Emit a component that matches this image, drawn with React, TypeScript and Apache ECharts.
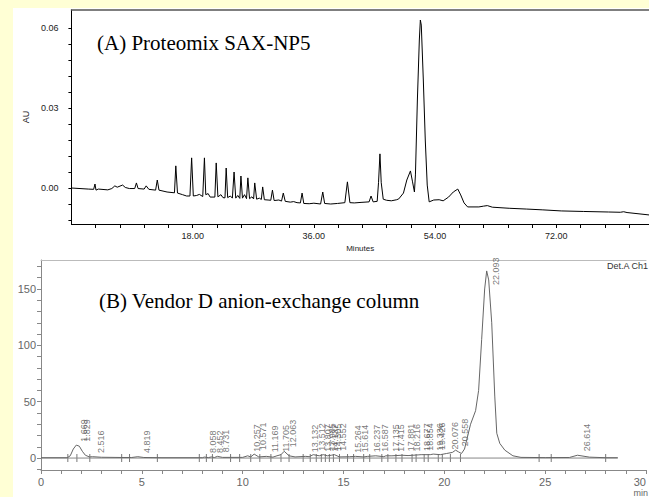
import React, { useEffect, useRef } from "react";
import * as echarts from "echarts";

// ---------- Panel A: Proteomix SAX-NP5 (time in min, absorbance AU) ----------
const traceA: [number, number][] = [
  [0, 0], [2.5, -0.0004], [3.3, -0.0005], [3.5, 0.0015], [3.65, -0.0008], [4.0, -0.0004],
  [5.4, -0.0007], [6.0, -0.0002], [6.45, 0.0008], [6.8, 0.0003], [7.6, 0.0011], [8.0, 0.0002],
  [8.6, -0.0002], [9.4, -0.0002], [9.65, 0.0019], [9.9, -0.0002], [10.8, -0.0004], [11.1, 0.0008],
  [11.5, -0.0005], [12.5, -0.0008], [12.75, 0.003], [13.0, -0.0008], [14.2, -0.0015], [15.3, -0.0018],
  [15.5, 0.0083], [15.75, -0.0019], [16.5, -0.0025], [17.1, -0.003], [17.6, -0.003], [17.85, 0.0113],
  [18.1, -0.003], [18.6, -0.0028], [19.0, -0.0024], [19.5, -0.0032], [19.75, 0.0113], [19.95, -0.0025],
  [20.3, -0.0021], [20.6, -0.0034], [21.3, -0.0034], [21.5, 0.0094], [21.75, -0.0033], [22.2, -0.0025],
  [22.5, -0.0036], [22.8, -0.0037], [22.98, 0.0075], [23.2, -0.0036], [23.6, -0.003], [23.9, -0.0038],
  [24.15, 0.006], [24.4, -0.0038], [24.7, -0.0028], [25.0, -0.0039], [25.17, 0.0045], [25.4, -0.0038],
  [25.7, -0.0025], [26.0, -0.004], [26.2, 0.0038], [26.45, -0.004], [26.8, -0.0033], [27.05, -0.0041],
  [27.22, 0.0019], [27.5, -0.0042], [27.9, -0.0038], [28.2, -0.0043], [28.4, 0.0004], [28.65, -0.0044],
  [29.2, -0.0045], [29.6, -0.0046], [29.85, -0.0008], [30.1, -0.0047], [30.8, -0.0045], [31.2, -0.0049],
  [31.46, -0.0019], [31.75, -0.005], [32.5, -0.0053], [33.0, -0.0051], [33.5, -0.0055], [34.0, -0.0056],
  [34.25, -0.0019], [34.5, -0.0058], [35.3, -0.0059], [36.0, -0.0057], [37.0, -0.006], [37.32, -0.0015],
  [37.6, -0.0058], [38.5, -0.006], [39.5, -0.0058], [40.6, -0.0055], [40.98, 0.0023], [41.35, -0.0055],
  [42.0, -0.0056], [43.0, -0.0054], [44.2, -0.0052], [44.49, -0.003], [44.8, -0.0052], [45.4, -0.005],
  [45.6, 0.002], [45.81, 0.0128], [46.0, 0.002], [46.3, -0.0042], [46.8, -0.0046], [47.5, -0.0048],
  [48.3, -0.0044], [48.6, -0.0041], [49.3, -0.0019], [49.8, 0.003], [50.34, 0.0064], [50.65, 0.0023],
  [50.93, -0.0015], [51.08, 0.0049], [51.37, 0.033], [51.66, 0.0555], [51.81, 0.063], [51.95, 0.0611],
  [52.25, 0.0405], [52.54, 0.018], [52.83, 0.0011], [53.12, -0.0052], [53.8, -0.0045], [54.6, -0.0044],
  [55.2, -0.0048], [56.0, -0.0034], [56.7, -0.0015], [57.37, -0.0004], [57.8, -0.0026], [58.3, -0.0056],
  [58.83, -0.0071], [60.5, -0.0071], [61.2, -0.0068], [61.76, -0.0066], [62.5, -0.0072], [65.0, -0.0076],
  [67.61, -0.0079], [70.0, -0.0082], [72.73, -0.0086], [76.0, -0.0088], [79.76, -0.009], [81.5, -0.0091],
  [82.0, -0.0089], [82.5, -0.0092], [85.76, -0.0101],
];
const aXRange = [0, 85.76];
const aYRange = [-0.0135, 0.06675];
const aXTicks = [3.6, 7.2, 10.8, 14.4, 18, 21.6, 25.2, 28.8, 32.4, 36, 39.6, 43.2, 46.8, 50.4, 54, 57.6, 61.2, 64.8, 68.4, 72, 75.6, 79.2, 82.8];
const aXLabels = [18, 36, 54, 72];
const aYTicks = [-0.012, -0.006, 0, 0.006, 0.012, 0.018, 0.024, 0.03, 0.036, 0.042, 0.048, 0.054, 0.06];
const aYLabels = [0, 0.03, 0.06];

// ---------- Panel B: Vendor D anion-exchange column (time in min, signal mV) ----------
const traceB: [number, number][] = [
  [0, 0.3], [1.3, 0.3], [1.45, 2], [1.6, 8], [1.75, 11.5], [1.9, 10.5], [2.05, 6], [2.2, 2.5], [2.4, 1],
  [2.55, 1.2], [3, 0.7], [4, 0.5], [4.5, 0.5], [4.8, 1.2], [5.1, 0.5], [6, 0.3], [8, 0.3], [8.1, 0.9],
  [8.3, 0.4], [8.45, 1], [8.6, 0.5], [8.75, 1.5], [9, 0.6], [10, 0.6], [10.25, 2], [10.4, 1], [10.57, 3.5],
  [10.8, 1], [11.17, 1.5], [11.5, 0.8], [11.7, 2], [11.9, 3], [12.06, 6], [12.3, 2], [12.6, 1], [13.13, 1.5],
  [13.3, 1.2], [13.5, 3], [13.8, 2], [14.0, 3], [14.2, 2], [14.4, 2.5], [14.55, 3], [14.8, 1], [15.3, 1.2],
  [15.6, 1.5], [16, 1], [16.2, 1.5], [16.6, 2], [17, 1.2], [17.1, 2], [17.4, 2], [17.9, 2.5], [18.2, 2.2],
  [18.7, 2.8], [18.85, 3], [19.3, 3], [19.45, 3.5], [19.8, 3], [20.1, 4], [20.4, 5], [20.56, 7], [20.7, 5.5],
  [20.85, 4], [21.0, 8], [21.3, 30], [21.55, 42], [21.7, 60], [21.85, 105], [22.0, 150], [22.1, 166],
  [22.2, 158], [22.35, 120], [22.5, 55], [22.6, 22], [22.75, 13], [23.0, 7], [23.4, 2], [23.8, 0.6],
  [25, 0.4], [26.2, 0.5], [26.6, 2.5], [27.2, 0.8], [28, 0.3], [28.6, 0.3],
];
const peaksB: [number, number][] = [
  [1.669, 11], [1.829, 11], [2.516, 1], [4.819, 1], [8.058, 1], [8.452, 1], [8.731, 1.5], [10.257, 2],
  [10.571, 3.5], [11.169, 1.5], [11.705, 2], [12.063, 6], [13.132, 1.5], [13.512, 3], [13.807, 2],
  [13.985, 3], [14.137, 2], [14.305, 2.5], [14.552, 3], [15.264, 1.2], [15.614, 1.5], [16.237, 1.5],
  [16.587, 2], [17.135, 2], [17.415, 2], [17.881, 2.5], [18.216, 2.2], [18.677, 2.8], [18.854, 3],
  [19.336, 3], [19.426, 3.5], [20.076, 4], [20.558, 7], [22.093, 166], [26.614, 2.5],
];
const markersB = [1.33, 1.78, 2.42, 4.0, 4.39, 5.77, 7.85, 8.2, 8.5, 9.4, 9.85, 10.4, 10.85, 11.4, 11.9, 12.3,
  13.0, 13.35, 13.65, 13.9, 14.1, 14.3, 14.5, 14.8, 15.2, 15.5, 16.0, 16.3, 16.9, 17.2, 17.6, 17.9, 18.4,
  18.6, 19.0, 19.2, 19.7, 19.9, 20.3, 20.8, 24.7, 25.3, 28.0];
const baselineB = [0, 28.6];
const bXRange = [0, 30];
const bYRange = [-10.6, 175.7];
const bXTicks = [0, 1, 2, 3, 4, 5, 6, 7, 8, 9, 10, 11, 12, 13, 14, 15, 16, 17, 18, 19, 20, 21, 22, 23, 24, 25, 26, 27, 28, 29, 30];
const bXLabels = [0, 5, 10, 15, 20, 25, 30];
const bYTicks = [-10, 0, 10, 20, 30, 40, 50, 60, 70, 80, 90, 100, 110, 120, 130, 140, 150, 160, 170];
const bYLabels = [0, 50, 100, 150];
const labelCapB = 150;

const SANS = "'Liberation Sans', Arial, sans-serif";
const SERIF = "'Liberation Serif', 'Times New Roman', serif";

export default function App() {
  const ref = useRef<HTMLDivElement>(null);
  useEffect(() => {
    document.body.style.margin = "0";
    const chart = echarts.init(ref.current!, null, { renderer: "svg" });
    const option: any = {
      animation: false,
      grid: [
        { left: 50, top: 2, right: 0, height: 214 },
        { left: 28, top: 252, right: 0, height: 210 },
      ],
      xAxis: [
        {
          gridIndex: 0, type: "value", min: aXRange[0], max: aXRange[1],
          axisLine: { onZero: false, lineStyle: { color: "#000", width: 1 } },
          axisTick: { customValues: aXTicks, length: 4, lineStyle: { color: "#000" } },
          axisLabel: {
            customValues: aXLabels, formatter: (v: number) => v.toFixed(2),
            fontSize: 9, color: "#222", margin: 7, fontFamily: SANS,
          },
          splitLine: { show: false },
          name: "Minutes", nameLocation: "middle", nameGap: 20,
          nameTextStyle: { fontSize: 8, color: "#222", fontFamily: SANS },
        },
        {
          gridIndex: 0, type: "value", position: "top", min: aXRange[0], max: aXRange[1],
          axisLine: { onZero: false, lineStyle: { color: "#555", width: 1.5 } },
          axisTick: { show: false }, axisLabel: { show: false }, splitLine: { show: false },
        },
        {
          gridIndex: 1, type: "value", min: bXRange[0], max: bXRange[1],
          axisLine: { onZero: false, lineStyle: { color: "#888", width: 1 } },
          axisTick: { customValues: bXTicks, length: 4, lineStyle: { color: "#888" } },
          axisLabel: {
            customValues: bXLabels, fontSize: 11, color: "#666", margin: 6, fontFamily: SANS,
            alignMaxLabel: "right",
          },
          splitLine: { show: false },
        },
        {
          gridIndex: 1, type: "value", position: "top", min: bXRange[0], max: bXRange[1],
          axisLine: { onZero: false, lineStyle: { color: "#bbb", width: 1 } },
          axisTick: { show: false }, axisLabel: { show: false }, splitLine: { show: false },
        },
      ],
      yAxis: [
        {
          gridIndex: 0, type: "value", min: aYRange[0], max: aYRange[1],
          axisLine: { show: true, onZero: false, lineStyle: { color: "#000", width: 1 } },
          axisTick: { show: true, customValues: aYTicks, length: 3, lineStyle: { color: "#000" } },
          axisLabel: {
            customValues: aYLabels, formatter: (v: number) => v.toFixed(2),
            fontSize: 9, color: "#222", margin: 13, fontFamily: SANS,
          },
          splitLine: { show: false },
          name: "AU", nameLocation: "middle", nameRotate: 90, nameGap: 33,
          nameTextStyle: { fontSize: 9, color: "#222", fontFamily: SANS },
        },
        {
          gridIndex: 1, type: "value", min: bYRange[0], max: bYRange[1],
          axisLine: { show: true, onZero: false, lineStyle: { color: "#888", width: 1 } },
          axisTick: { show: true, customValues: bYTicks, length: 4, lineStyle: { color: "#888" } },
          axisLabel: { customValues: bYLabels, fontSize: 11, color: "#666", margin: 5, fontFamily: SANS },
          splitLine: { show: false },
        },
      ],
      series: [
        {
          type: "line", xAxisIndex: 0, yAxisIndex: 0, data: traceA, showSymbol: false, symbol: "none",
          lineStyle: { color: "#000", width: 1 }, silent: true,
        },
        {
          type: "line", xAxisIndex: 2, yAxisIndex: 1, data: baselineB.map((t) => [t, 0]), symbol: "none",
          lineStyle: { color: "#888", width: 1 }, silent: true,
        },
        {
          type: "line", xAxisIndex: 2, yAxisIndex: 1, data: traceB, showSymbol: false, symbol: "none",
          lineStyle: { color: "#666", width: 1 }, silent: true,
        },
        {
          type: "scatter", xAxisIndex: 2, yAxisIndex: 1, data: markersB.map((t) => [t, 0]),
          symbol: "rect", symbolSize: [1, 8], itemStyle: { color: "#555" }, silent: true,
        },
        {
          type: "scatter", xAxisIndex: 2, yAxisIndex: 1, symbolSize: 0, silent: true,
          data: peaksB.map(([t, h]) => ({ value: [t, Math.min(h, labelCapB)], name: t.toFixed(3) })),
          label: {
            show: true, formatter: (p: any) => p.name, rotate: 90, position: [9, -4],
            align: "left", verticalAlign: "middle", fontSize: 9, color: "#555", fontFamily: SANS,
          },
        },
      ],
      graphic: [
        {
          type: "text", x: 84, y: 35,
          style: { text: "(A) Proteomix SAX-NP5", font: `21px ${SERIF}`, fill: "#000", verticalAlign: "middle" },
        },
        {
          type: "text", x: 86, y: 293,
          style: { text: "(B) Vendor D anion-exchange column", font: `21px ${SERIF}`, fill: "#000", verticalAlign: "middle" },
        },
        {
          type: "text", x: 635, y: 258,
          style: { text: "Det.A Ch1", font: `9px ${SANS}`, fill: "#333", align: "right", verticalAlign: "middle" },
        },
        {
          type: "text", x: 635, y: 485,
          style: { text: "min", font: `9px ${SANS}`, fill: "#666", align: "right", verticalAlign: "middle" },
        },
      ],
    };
    chart.setOption(option);
    return () => chart.dispose();
  }, []);
  return (
    <div style={{ position: "relative", width: 649, height: 497, background: "#FFFFD5", overflow: "hidden" }}>
      <div
        ref={ref}
        style={{ position: "absolute", left: 13, top: 8, width: 636, height: 489, background: "#fff" }}
      />
    </div>
  );
}
